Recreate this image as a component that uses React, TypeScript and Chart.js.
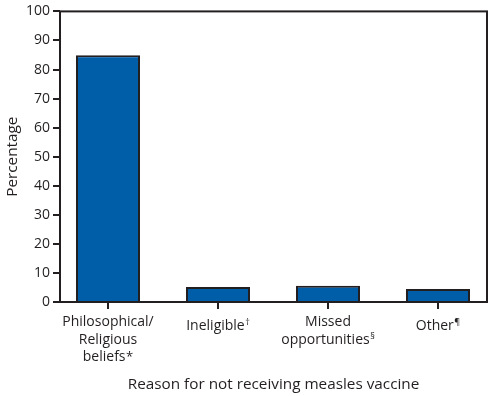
import React, { useEffect, useRef } from "react";
import { Chart, registerables } from "chart.js";

Chart.register(...registerables);

const categoryLines: string[][] = [
  ["Philosophical/", "Religious", "beliefs"],
  ["Ineligible"],
  ["Missed", "opportunities"],
  ["Other"],
];
const footnoteMarks = ["*", "†", "§", "¶"];
const percentages = [84.9, 5.2, 5.6, 4.5];
const yTicks = [0, 10, 20, 30, 40, 50, 60, 70, 80, 90, 100];
const xTitle = "Reason for not receiving measles vaccine";
const yTitle = "Percentage";

const INK = "#231f20";
const BLUE = "#005ea8";
const FONT = "'Open Sans', 'Liberation Sans', sans-serif";

const boxPlugin = {
  id: "box",
  afterDatasetsDraw(chart: any) {
    const { ctx, chartArea } = chart;
    ctx.save();
    ctx.strokeStyle = INK;
    ctx.lineWidth = 2;
    ctx.strokeRect(chartArea.left, chartArea.top, chartArea.right - chartArea.left, chartArea.bottom - chartArea.top);
    ctx.restore();
  },
};

const labelPlugin = {
  id: "catLabels",
  afterDraw(chart: any) {
    const { ctx, chartArea } = chart;
    const xs = chart.scales.x;
    const mainFont = `14px ${FONT}`;
    const lineGap = 17.8;
    ctx.save();
    ctx.fillStyle = INK;
    ctx.textBaseline = "alphabetic";
    ctx.textAlign = "left";
    categoryLines.forEach((lines, i) => {
      const cx = xs.getPixelForValue(i);
      const mark = footnoteMarks[i];
      const markFont = mark === "*" ? `13px ${FONT}` : `9px ${FONT}`;
      const markRaise = mark === "*" ? 0 : 4.5;
      const firstBase = chartArea.bottom + (lines.length === 1 ? 27.5 : 23.8);
      lines.forEach((line, j) => {
        const y = firstBase + j * lineGap;
        ctx.font = mainFont;
        const w = ctx.measureText(line).width;
        const isLast = j === lines.length - 1;
        let mw = 0;
        if (isLast) {
          ctx.font = markFont;
          mw = ctx.measureText(mark).width + 0.5;
        }
        const x0 = cx - (w + mw) / 2;
        ctx.font = mainFont;
        ctx.fillText(line, x0, y);
        if (isLast) {
          ctx.font = markFont;
          ctx.fillText(mark, x0 + w + 0.5, y - markRaise);
        }
      });
    });
    ctx.restore();
  },
};

export default function App() {
  const ref = useRef<HTMLCanvasElement>(null);
  useEffect(() => {
    document.body.style.margin = "0";
    const chart = new Chart(ref.current!, {
      type: "bar",
      data: {
        datasets: [
          {
            data: percentages.map((v, i) => ({ x: i, y: v })),
            backgroundColor: BLUE,
            borderColor: INK,
            borderWidth: 2,
            borderSkipped: "start",
            barPercentage: 64 / 110,
            categoryPercentage: 1,
          },
        ],
      },
      options: {
        responsive: false,
        animation: false,
        layout: { padding: { top: 11, right: 16, left: 0, bottom: 0 } },
        plugins: { legend: { display: false }, tooltip: { enabled: false } },
        scales: {
          x: {
            type: "linear",
            offset: false,
            min: -48 / 110,
            max: 3 + 49 / 110,
            afterBuildTicks: (scale: any) => {
              scale.ticks = categoryLines.map((_, i) => ({ value: i }));
            },
            afterFit: (scale: any) => {
              scale.height = 94;
            },
            border: { display: false },
            grid: { display: true, offset: false, drawOnChartArea: false, drawTicks: true, tickLength: 7, color: INK, lineWidth: 2 },
            ticks: { display: false },
            title: {
              display: true,
              text: xTitle,
              color: INK,
              font: { family: FONT, size: 15.3 },
              padding: { top: 0, bottom: 2 },
            },
          },
          y: {
            min: 0,
            max: 100,
            afterBuildTicks: (scale: any) => {
              scale.ticks = yTicks.map((v) => ({ value: v }));
            },
            afterFit: (scale: any) => {
              scale.width = 60;
            },
            border: { display: false },
            grid: { display: true, drawOnChartArea: false, drawTicks: true, tickLength: 7, color: INK, lineWidth: 2 },
            ticks: {
              padding: 3,
              color: INK,
              font: { family: FONT, size: 14 },
            },
            title: {
              display: true,
              text: yTitle,
              color: INK,
              font: { family: FONT, size: 15.3 },
              padding: { top: 3, bottom: 0 },
            },
          },
        },
      },
      plugins: [boxPlugin, labelPlugin],
    } as any);
    return () => chart.destroy();
  }, []);
  return (
    <div style={{ width: 503, height: 396, background: "#fff" }}>
      <canvas ref={ref} width={503} height={396} />
    </div>
  );
}
